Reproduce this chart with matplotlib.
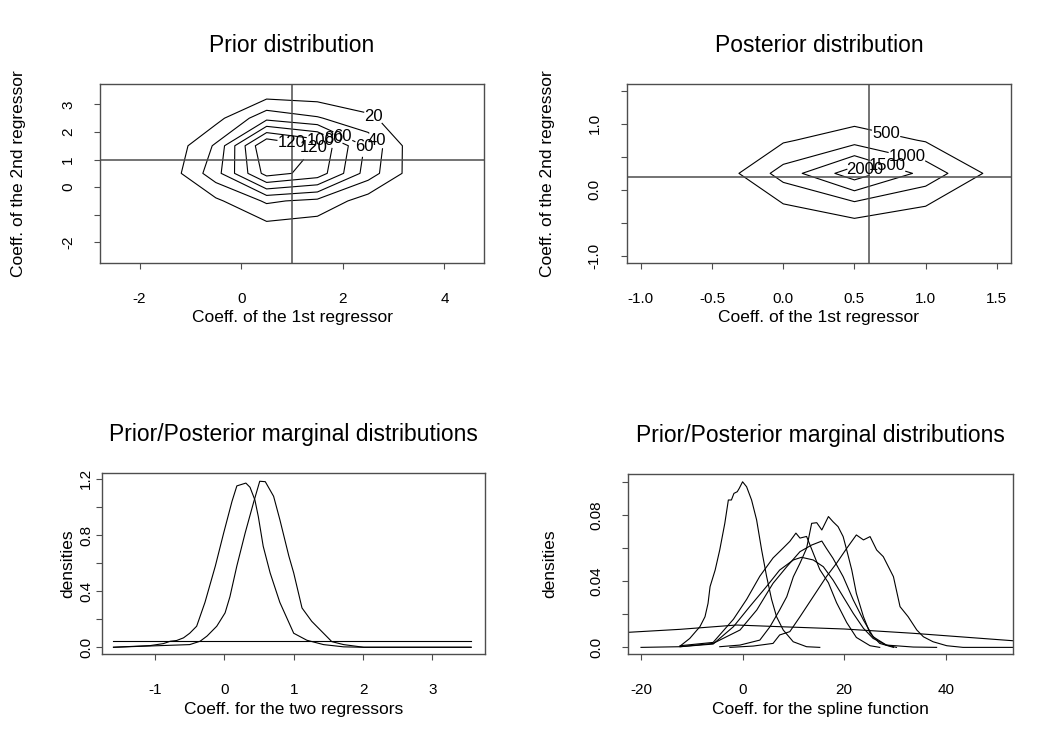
import numpy as np
import matplotlib
matplotlib.use('Agg')
import matplotlib.pyplot as plt

plt.rcParams['font.family'] = ['Liberation Sans', 'DejaVu Sans']
plt.rcParams['font.size'] = 11
plt.rcParams['axes.unicode_minus'] = False

# ---- Prior contour (coarse 2D grid of counts) ----
prior_x = [-2.5, -1.5, -0.5, 0.5, 1.5, 2.5, 3.5, 4.5]
prior_y = [-2.5, -1.5, -0.5, 0.5, 1.5, 2.5, 3.5]
prior_z = [
    [0, 0, 0, 1, 1, 0, 0, 0],
    [0, 0, 2, 12, 8, 1, 0, 0],
    [0, 1, 16, 43, 35, 10, 0, 0],
    [0, 5, 52, 128, 112, 50, 5, 0],
    [0, 1, 43, 142, 119, 55, 3, 0],
    [0, 0, 13, 54, 42, 24, 2, 0],
    [0, 0, 1, 5, 5, 2, 0, 0],
]
prior_levels = [20, 40, 60, 80, 100, 120]
prior_label_pos = [(2.62, 2.6), (2.75, 1.85), (2.5, 1.45), (2.0, 1.85),
                   (1.8, 1.72), (1.55, 1.6), (1.0, 1.6), (1.4, 1.45)]
prior_true = (1.0, 1.0)

# ---- Posterior contour ----
post_x = [-1.0, -0.5, 0.0, 0.5, 1.0, 1.5]
post_y = [-0.75, -0.25, 0.25, 0.75, 1.25]
post_z = [
    [0, 0, 5, 2, 5, 0],
    [0, 20, 440, 780, 495, 30],
    [0, 70, 1210, 2300, 1320, 300],
    [0, 20, 437, 800, 460, 30],
    [0, 0, 10, 86, 10, 0],
]
post_levels = [500, 1000, 1500, 2000]
post_label_pos = [(0.72, 0.84), (0.86, 0.45), (0.74, 0.40), (0.57, 0.28)]
post_true = (0.6, 0.2)

# ---- Marginals for the two regressors ----
marg1_x = [-1.60, -1.07, -0.88, -0.78, -0.69, -0.59, -0.50, -0.40, -0.28, -0.13,
           -0.01, 0.11, 0.18, 0.31, 0.37, 0.44, 0.49, 0.56, 0.66, 0.80, 1.00,
           1.19, 1.43, 1.72, 2.01, 3.56]
marg1_y = [0.0, 0.012, 0.026, 0.043, 0.048, 0.067, 0.10, 0.15, 0.32, 0.58,
           0.815, 1.04, 1.15, 1.17, 1.14, 1.05, 0.93, 0.72, 0.53, 0.32, 0.10,
           0.05, 0.019, 0.003, 0.0, 0.0]
marg2_x = [-1.60, -0.50, -0.35, -0.25, -0.11, 0.01, 0.08, 0.18, 0.30, 0.42,
           0.51, 0.59, 0.71, 0.80, 0.93, 1.00, 1.12, 1.26, 1.43, 1.55, 1.72,
           2.01, 3.56]
marg2_y = [0.0, 0.019, 0.043, 0.08, 0.15, 0.245, 0.36, 0.58, 0.815, 1.03,
           1.183, 1.18, 1.076, 0.91, 0.65, 0.53, 0.28, 0.185, 0.10, 0.04,
           0.019, 0.0, 0.0]
marg_prior_x = [-1.60, 3.56]
marg_prior_y = [0.043, 0.043]

# ---- Marginals for the spline coefficients ----
spA_x = [-12.3, -10.4, -8.4, -7.4, -6.8, -6.4, -5.4, -4.5, -3.5, -2.8, -2.2,
         -1.7, -1.05, -0.66, 0.0, 0.79, 1.77, 2.76, 3.74, 4.72, 5.71, 6.69,
         8.0, 9.97, 12.6, 15.2]
spA_y = [0.0008, 0.0054, 0.0125, 0.0185, 0.0266, 0.0367, 0.0467, 0.0588,
         0.0749, 0.089, 0.089, 0.093, 0.094, 0.096, 0.100, 0.097, 0.089,
         0.077, 0.059, 0.043, 0.029, 0.0185, 0.0105, 0.0034, 0.0004, 0.0]
spB_x = [-12.3, -5.8, -1.8, 0.8, 3.4, 6.0, 8.0, 9.3, 10.5, 11.3, 12.6, 13.9,
         15.2, 16.9, 18.5, 20.5, 22.4, 25.1, 27.0]
spB_y = [0.001, 0.003, 0.017, 0.029, 0.043, 0.054, 0.060, 0.064, 0.069,
         0.066, 0.067, 0.057, 0.047, 0.039, 0.027, 0.015, 0.006, 0.001, 0.0]
spC_x = [-4.5, -0.5, 3.4, 5.4, 7.3, 8.7, 10.0, 11.3, 12.6, 13.6, 14.6, 15.6,
         16.9, 17.8, 18.8, 19.8, 20.5, 21.5, 22.4, 23.8, 25.1, 27.0, 29.7]
spC_y = [0.0004, 0.0014, 0.0044, 0.0125, 0.0226, 0.0306, 0.0427, 0.0508,
         0.0598, 0.0749, 0.0753, 0.0709, 0.079, 0.0759, 0.0729, 0.0669,
         0.0588, 0.0467, 0.0326, 0.0185, 0.0085, 0.0024, 0.0]
spD_x = [-12.3, -5.8, -0.5, 2.8, 6.0, 8.7, 11.3, 13.6, 15.6, 16.5, 17.8, 19.8,
         21.8, 23.8, 25.7, 28.3, 30.3]
spD_y = [0.0004, 0.0024, 0.0105, 0.0226, 0.0387, 0.0487, 0.0578, 0.0618,
         0.0642, 0.0598, 0.0538, 0.0427, 0.0286, 0.0165, 0.0064, 0.0014, 0.0]
spE_x = [-20.0, -12.3, -5.8, -1.8, 1.4, 4.7, 7.3, 10.0, 11.6, 13.9, 15.9,
         17.8, 19.8, 21.8, 23.8, 25.7, 28.3, 33.6, 38.2]
spE_y = [0.0, 0.0004, 0.002, 0.0125, 0.0246, 0.0367, 0.0467, 0.0528, 0.0544,
         0.0528, 0.0487, 0.0407, 0.0306, 0.0205, 0.0115, 0.0054, 0.0014,
         0.0002, 0.0]
spF_x = [-2.5, 2.1, 6.0, 7.3, 9.3, 11.3, 13.9, 16.5, 18.5, 20.5, 22.4, 23.8,
         25.1, 26.4, 27.7, 29.7, 31.0, 32.6, 34.3, 35.6, 37.5, 40.2, 43.4, 53.3]
spF_y = [0.0, 0.0008, 0.0024, 0.0075, 0.0095, 0.0185, 0.0306, 0.0427, 0.0508,
         0.0598, 0.0679, 0.0649, 0.0669, 0.0588, 0.0548, 0.0427, 0.0246,
         0.0185, 0.0105, 0.0064, 0.0034, 0.001, 0.0, 0.0]
sp_prior_x = [-22.5, -12.3, -1.2, 7.3, 20.0, 33.6, 53.3]
sp_prior_y = [0.0091, 0.0109, 0.0135, 0.0125, 0.0111, 0.0085, 0.004]

BOX = '0.3'


def style_axes(ax, ypad):
    for s in ax.spines.values():
        s.set_color(BOX)
        s.set_linewidth(1.0)
    ax.tick_params(direction='out', length=4, width=0.8, color=BOX,
                   labelsize=11, pad=17)
    ax.tick_params(axis='y', pad=ypad)
    for t in ax.get_yticklabels():
        t.set_rotation(90)
        t.set_va('center')


def pad_lim(v):
    lo, hi = min(v), max(v)
    d = 0.04 * (hi - lo)
    return lo - d, hi + d


def contour_panel(ax, gx, gy, gz, levels, label_pos, truth):
    cs = ax.contour(gx, gy, np.array(gz), levels=levels, colors='black',
                    linewidths=0.8)
    texts = ax.clabel(cs, inline=True, fontsize=12, fmt='%d',
                      manual=label_pos, inline_spacing=2)
    for t in texts:
        t.set_rotation(0)
    ax.axvline(truth[0], color=BOX, lw=1.1)
    ax.axhline(truth[1], color=BOX, lw=1.1)


fig = plt.figure(figsize=(10.55, 7.48), dpi=100)
W, H = 1055.0, 748.0


def box(l, t, r, b):
    return [l / W, 1 - b / H, (r - l) / W, (b - t) / H]


ax1 = fig.add_axes(box(100, 84, 484, 262.7))
ax2 = fig.add_axes(box(626.7, 84, 1011, 262.7))
ax3 = fig.add_axes(box(101.7, 472.7, 485, 654))
ax4 = fig.add_axes(box(628.3, 474, 1013.3, 654))

# Prior contour
contour_panel(ax1, prior_x, prior_y, prior_z, prior_levels, prior_label_pos, prior_true)
ax1.set_xlim(pad_lim(prior_x))
ax1.set_ylim(pad_lim(prior_y))
ax1.set_xticks([-2, 0, 2, 4])
ax1.set_yticks([-2, -1, 0, 1, 2, 3])
ax1.set_yticklabels(['-2', '', '0', '1', '2', '3'])

# Posterior contour
contour_panel(ax2, post_x, post_y, post_z, post_levels, post_label_pos, post_true)
ax2.set_xlim(-1.1, 1.6)
ax2.set_ylim(-1.1, 1.6)
ax2.set_xticks([-1, -0.5, 0, 0.5, 1, 1.5])
ax2.set_xticklabels(['-1.0', '-0.5', '0.0', '0.5', '1.0', '1.5'])
ax2.set_yticks([-1, -0.5, 0, 0.5, 1, 1.5])
ax2.set_yticklabels(['-1.0', '', '0.0', '', '1.0', ''])

# Regressor marginals
ax3.plot(marg1_x, marg1_y, color='black', lw=0.8)
ax3.plot(marg2_x, marg2_y, color='black', lw=0.8)
ax3.plot(marg_prior_x, marg_prior_y, color='black', lw=0.8)
ax3.set_xlim(-1.77, 3.76)
ax3.set_ylim(-0.048, 1.244)
ax3.set_xticks([-1, 0, 1, 2, 3])
ax3.set_yticks([0, 0.2, 0.4, 0.6, 0.8, 1.0, 1.2])
ax3.set_yticklabels(['0.0', '', '0.4', '', '0.8', '', '1.2'])

# Spline marginals
for sx, sy in [(spA_x, spA_y), (spB_x, spB_y), (spC_x, spC_y), (spD_x, spD_y),
               (spE_x, spE_y), (spF_x, spF_y), (sp_prior_x, sp_prior_y)]:
    ax4.plot(sx, sy, color='black', lw=0.8)
ax4.set_xlim(-22.5, 53.3)
ax4.set_ylim(-0.004, 0.1047)
ax4.set_xticks([-20, 0, 20, 40])
ax4.set_yticks([0, 0.02, 0.04, 0.06, 0.08, 0.10])
ax4.set_yticklabels(['0.0', '', '0.04', '', '0.08', ''])

titles = ['Prior distribution', 'Posterior distribution',
          'Prior/Posterior marginal distributions',
          'Prior/Posterior marginal distributions']
xlabels = ['Coeff. of the 1st regressor', 'Coeff. of the 1st regressor',
           'Coeff. for the two regressors', 'Coeff. for the spline function']
ylabels = ['Coeff. of the 2nd regressor', 'Coeff. of the 2nd regressor',
           'densities', 'densities']
ylab_x = [-0.2135, -0.205, -0.0885, -0.205]
ytick_pad = [14, 14, 2, 14]

for ax, ti, xl, yl, yx, yp in zip([ax1, ax2, ax3, ax4], titles, xlabels,
                                  ylabels, ylab_x, ytick_pad):
    style_axes(ax, yp)
    ax.set_title(ti, fontsize=16.5, pad=23)
    ax.set_xlabel(xl, fontsize=12.5, va='center')
    ax.xaxis.set_label_coords(0.5, -0.307)
    ax.set_ylabel(yl, fontsize=12.5, va='center')
    ax.yaxis.set_label_coords(yx, 0.5)

fig.savefig('out.png', dpi=100, facecolor='white')
